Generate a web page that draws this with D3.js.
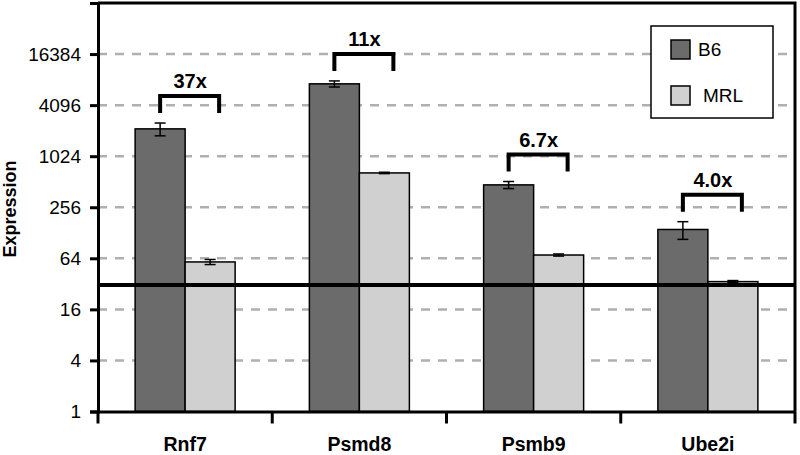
<!DOCTYPE html>
<html>
<head>
<meta charset="utf-8">
<script src="https://cdn.jsdelivr.net/npm/d3@7"></script>
<style>
  body { margin: 0; background: #fff; }
  svg { display: block; }
  svg text { font-family: "Liberation Sans", Arial, sans-serif; }
</style>
</head>
<body>
<div id="chart"></div>
<script>
// data
const genes = ["Rnf7", "Psmd8", "Psmb9", "Ube2i"];
const b6 = [2150, 7300, 470, 140];
const b6Err = [370, 600, 45, 33];
const mrl = [58, 650, 70, 34];
const mrlErr = [4, 12, 2, 1];
const folds = ["37x", "11x", "6.7x", "4.0x"];
const yTicks = [1, 4, 16, 64, 256, 1024, 4096, 16384];
const threshold = 31;
const seriesNames = ["B6", "MRL"];
const seriesColors = ["#6b6b6b", "#d0d0d0"];

const width = 800, height = 455;
const margin = { top: 3, right: 5, bottom: 43.5, left: 98 };

const svg = d3.select("#chart").append("svg")
  .attr("width", width)
  .attr("height", height);

const x = d3.scaleBand()
  .domain(genes)
  .range([margin.left, width - margin.right]);

const y = d3.scaleLog().base(2)
  .domain([1, 65536])
  .range([height - margin.bottom, margin.top]);

const barW = 50;

// dashed grid
svg.append("g")
  .selectAll("line")
  .data(yTicks.filter(d => d > 1))
  .join("line")
  .attr("x1", margin.left)
  .attr("x2", width - margin.right)
  .attr("y1", d => y(d))
  .attr("y2", d => y(d))
  .attr("stroke", "#b0b0b0")
  .attr("stroke-width", 2.5)
  .attr("stroke-dasharray", "9,8");

// bars
const rows = genes.map((g, i) => ({ gene: g, vals: [b6[i], mrl[i]], errs: [b6Err[i], mrlErr[i]] }));

const groups = svg.append("g")
  .selectAll("g")
  .data(rows)
  .join("g");

groups.selectAll("rect")
  .data(d => d.vals.map((v, k) => ({ gene: d.gene, v, k })))
  .join("rect")
  .attr("x", d => x(d.gene) + x.bandwidth() / 2 - barW + d.k * barW)
  .attr("width", barW)
  .attr("y", d => y(d.v))
  .attr("height", d => y(1) - y(d.v))
  .attr("fill", d => seriesColors[d.k])
  .attr("stroke", "#000")
  .attr("stroke-width", 1.5);

// error bars
const errs = groups.selectAll("g.err")
  .data(d => d.vals.map((v, k) => ({ gene: d.gene, v, e: d.errs[k], k })))
  .join("g")
  .attr("class", "err")
  .attr("stroke", "#000")
  .attr("stroke-width", 1.5);

const cx = d => x(d.gene) + x.bandwidth() / 2 - barW / 2 + d.k * barW;
errs.append("line")
  .attr("x1", cx).attr("x2", cx)
  .attr("y1", d => y(d.v + d.e)).attr("y2", d => y(d.v - d.e));
errs.append("line")
  .attr("x1", d => cx(d) - 5.5).attr("x2", d => cx(d) + 5.5)
  .attr("y1", d => y(d.v + d.e)).attr("y2", d => y(d.v + d.e));
errs.append("line")
  .attr("x1", d => cx(d) - 5.5).attr("x2", d => cx(d) + 5.5)
  .attr("y1", d => y(d.v - d.e)).attr("y2", d => y(d.v - d.e));

// fold-change brackets
const brackets = svg.append("g")
  .selectAll("g")
  .data(genes.map((g, i) => ({ gene: g, top: b6[i] + b6Err[i], label: folds[i] })))
  .join("g");

brackets.append("path")
  .attr("fill", "none")
  .attr("stroke", "#000")
  .attr("stroke-width", 4)
  .attr("d", d => {
    const x0 = x(d.gene) + x.bandwidth() / 2 - barW / 2;
    const x1 = x0 + barW + 9;
    const yb = y(d.top) - 10;
    const yt = yb - 17;
    return `M${x0},${yb}V${yt}H${x1}V${yb}`;
  });

brackets.append("text")
  .attr("x", d => x(d.gene) + x.bandwidth() / 2 + 5)
  .attr("y", d => y(d.top) - 35)
  .attr("text-anchor", "middle")
  .attr("font-size", 20)
  .attr("font-weight", "bold")
  .text(d => d.label);

// threshold line
svg.append("line")
  .attr("x1", margin.left)
  .attr("x2", width - margin.right)
  .attr("y1", y(threshold))
  .attr("y2", y(threshold))
  .attr("stroke", "#000")
  .attr("stroke-width", 4);

// frame (top and right)
svg.append("path")
  .attr("fill", "none")
  .attr("stroke", "#000")
  .attr("stroke-width", 3)
  .attr("d", `M${margin.left},${margin.top}H${width - margin.right}V${height - margin.bottom}`);

// axes
const yAxis = svg.append("g")
  .attr("transform", `translate(${margin.left},0)`)
  .call(d3.axisLeft(y).tickValues(yTicks).tickFormat(d3.format("d")).tickSize(8).tickPadding(9));

const xAxis = svg.append("g")
  .attr("transform", `translate(0,${y(1)})`)
  .call(d3.axisBottom(x).tickSize(0).tickPadding(26));

// band-boundary ticks on x axis
svg.append("g")
  .selectAll("line")
  .data(genes.map(g => x(g)).concat([width - margin.right]))
  .join("line")
  .attr("x1", d => d).attr("x2", d => d)
  .attr("y1", y(1)).attr("y2", y(1) + 12)
  .attr("stroke", "#000")
  .attr("stroke-width", 3);

[yAxis, xAxis].forEach(a => {
  a.attr("font-family", null);
  a.select(".domain").attr("stroke-width", 3);
  a.selectAll(".tick line").attr("stroke-width", 3);
  a.selectAll("text").attr("fill", "#000");
});
yAxis.attr("font-size", 19);
xAxis.attr("font-size", 19.5).attr("font-weight", "bold");

svg.append("text")
  .attr("transform", `translate(16,209) rotate(-90)`)
  .attr("text-anchor", "middle")
  .attr("font-size", 18)
  .attr("font-weight", "bold")
  .text("Expression");

// legend
const legend = svg.append("g");
legend.append("rect")
  .attr("x", 651).attr("y", 26)
  .attr("width", 122).attr("height", 92)
  .attr("fill", "#fff")
  .attr("stroke", "#000")
  .attr("stroke-width", 1.5);

const items = legend.selectAll("g")
  .data(seriesNames.map((n, i) => ({ n, i })))
  .join("g")
  .attr("transform", d => `translate(671,${40 + d.i * 46})`);

items.append("rect")
  .attr("width", 19).attr("height", 19)
  .attr("fill", d => seriesColors[d.i])
  .attr("stroke", "#000")
  .attr("stroke-width", 1.5);

items.append("text")
  .attr("x", d => d.i === 0 ? 27 : 32)
  .attr("y", 16)
  .attr("font-size", 19)
  .text(d => d.n);
</script>
</body>
</html>
